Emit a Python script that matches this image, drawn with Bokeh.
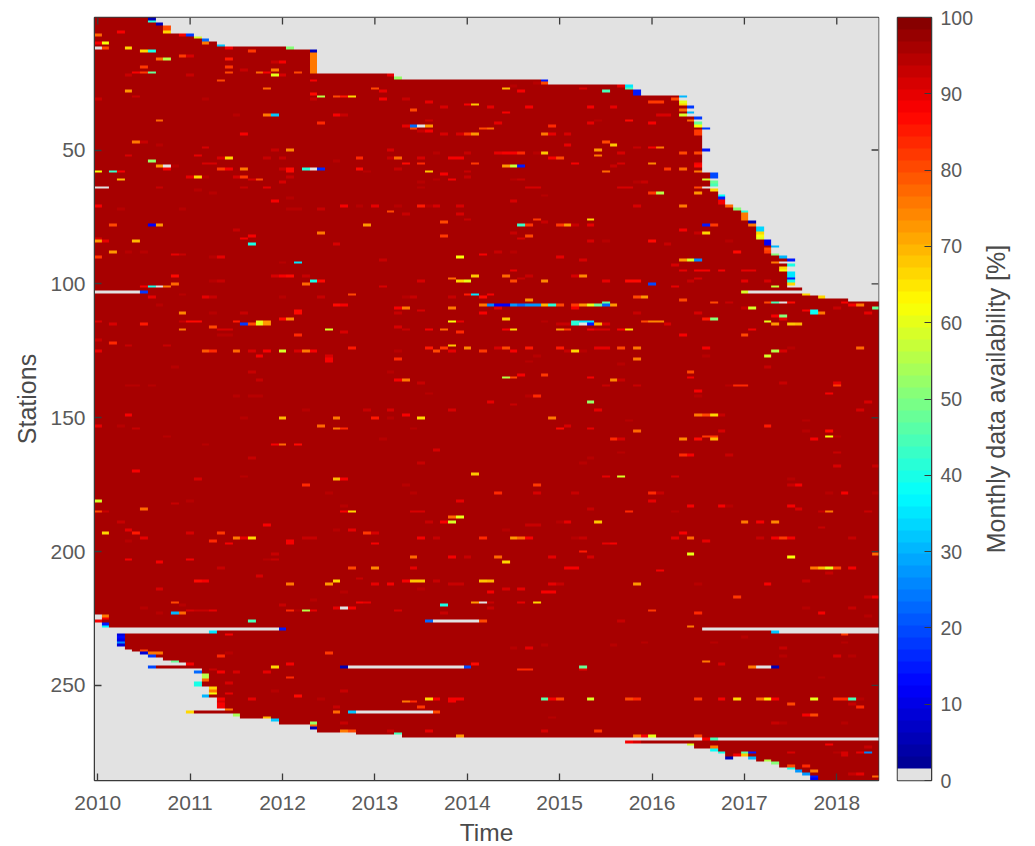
import numpy as np
from bokeh.embed import file_html
from bokeh.resources import INLINE
from bokeh.plotting import figure
from bokeh.layouts import row
from bokeh.models import LinearColorMapper, Range1d, FixedTicker, Title

year_labels = ["2010","2011","2012","2013","2014","2015","2016","2017","2018"]
year_ticks = [0,12,24,36,48,60,72,84,96]
station_ticks = [50,100,150,200,250]
colorbar_ticks = [0,10,20,30,40,50,60,70,80,90,100]
n_stations = 285
n_months = 102
typical_availability = 96
missing = 0

# (from station, to station, last month with data)
row_last_runs = [(1,2,7),(3,3,8),(4,6,9),(7,7,12),(8,8,13),(9,9,14),(10,10,15),(11,11,16),(12,12,25),(13,21,28),
 (22,22,38),(23,23,39),(24,25,58),(26,27,69),(28,29,70),(30,30,76),(31,31,75),(32,33,76),(34,34,77),(35,35,76),
 (36,36,77),(37,37,76),(38,38,78),(39,39,77),(40,41,78),(42,42,79),(43,49,78),(50,50,79),(51,58,78),(59,60,80),
 (61,61,79),(62,63,80),(64,64,79),(65,66,80),(67,70,81),(71,71,82),(72,72,83),(73,76,84),(77,78,85),(79,83,86),
 (84,85,87),(86,86,88),(87,88,87),(89,89,88),(90,90,89),(91,91,90),(92,92,88),(93,93,90),(94,95,89),(96,100,90),
 (101,101,89),(102,103,91),(104,104,92),(105,105,94),(106,106,97),(270,270,80)]
# (from station, to station, first month with data)
row_first_runs = [(227,228,1),(229,229,24),(230,230,15),(231,235,3),(236,236,4),(237,237,5),(238,238,6),(239,239,7),
 (240,240,9),(241,241,10),(242,242,12),(243,243,7),(244,244,14),(245,245,13),(246,248,14),(249,250,13),(251,253,15),
 (254,254,14),(255,258,16),(259,259,17),(260,260,12),(261,261,18),(262,262,19),(263,263,23),(264,264,24),(265,266,28),
 (267,267,29),(268,268,34),(269,269,40),(270,270,79),(271,271,69),(272,272,77),(273,273,78),(274,274,80),(275,275,81),
 (276,277,82),(278,278,86),(279,279,88),(280,280,89),(281,281,90),(282,282,91),(283,283,92),(284,285,93)]
# (station, first month, last month) with no data
gap_runs = [(103,0,5),(229,79,101),(230,89,101),(243,33,47),(243,86,87),(260,34,43),(226,44,49),(277,83,84),(103,85,91),(64,0,1),(224,0,0),(225,0,0)]

# (station, month, availability)
edge_cells = [(1,7,5),(2,7,42),(3,8,5),(4,9,80),(5,9,80),(6,9,66),(7,11,88),(7,12,18),(8,13,58),(9,14,22),(10,14,76),
 (11,16,32),(12,17,90),(12,25,50),(13,28,5),(14,28,75),(15,28,75),(16,28,75),(17,28,75),(18,28,75),(19,28,75),(20,28,75),(21,28,75),
 (22,38,90),(23,39,52),(24,58,15),(25,58,80),(26,69,35),(27,69,45),(28,70,15),(29,70,15),(30,76,30),(31,75,80),(32,76,60),(33,76,66),
 (34,77,18),(35,76,78),(36,77,30),(37,76,58),(38,78,18),(39,77,78),(40,78,48),(41,78,62),(42,79,18),(43,78,82),(44,78,82),(50,79,15),
 (59,80,20),(60,80,20),(61,79,58),(62,80,48),(63,80,45),(64,79,0),(65,80,66),(67,81,38),(68,81,15),(69,81,88),(70,81,88),(71,82,78),
 (72,83,50),(73,84,42),(74,84,75),(75,84,75),(76,84,75),(77,85,5),(78,85,75),(79,86,33),(80,86,33),(81,86,66),(82,86,62),(83,86,58),
 (84,87,12),(85,87,12),(86,88,30),(87,87,80),(88,87,82),(89,88,50),(90,89,30),(91,90,15),(92,88,76),(93,90,40),(94,89,66),(95,89,62),
 (96,90,35),(97,90,35),(98,90,15),(99,90,40),(100,90,66),(101,88,57),(103,84,58),(104,92,66),(105,94,66)]
bottom_edge_cells = [(226,0,88),(224,1,76),(225,1,88),(227,1,15),(228,1,36),(229,24,15),(230,15,35),(231,3,8),(232,3,14),(233,3,10),(234,3,25),(235,3,8),
 (237,6,80),(238,6,8),(238,7,76),(238,8,76),(239,7,18),(241,10,48),(242,11,0),(242,12,88),(243,7,20),(243,32,5),(243,48,20),
 (245,13,22),(246,14,55),(247,14,55),(248,14,78),(249,13,40),(250,13,40),(251,15,66),(252,15,76),(253,15,62),(254,14,30),
 (255,16,88),(256,16,92),(257,16,88),(258,16,88),(259,17,75),(260,12,66),(261,18,54),(262,22,70),(263,23,32),(264,28,52),(265,28,78),(266,28,5),
 (267,32,75),(267,33,80),(268,39,44),(269,47,72),(270,79,88),(270,80,45),(271,69,88),(271,70,92),(272,77,58),(273,80,75),(274,80,38),
 (275,81,40),(275,84,46),(275,85,15),(276,83,88),(276,84,68),(277,82,5),(277,85,30),(278,87,55),(279,88,50),(280,90,80),(281,90,40),(282,91,28),
 (283,92,28),(284,93,15),(285,93,12),(226,43,22),(226,50,80),(243,85,76),(243,88,6),(260,33,32),(260,44,80),(226,20,44)]

top_left_cells = [(7,0,78),(6,3,88),(10,0,88),(10,1,62),(12,0,0),(12,1,80),(12,4,66),(13,6,66),(13,7,40),(16,8,78),(16,9,55),(15,11,82),(15,12,92),
 (12,17,88),(16,17,85),(19,17,82),(21,17,80),(13,20,82),(17,24,88),(17,23,93),(19,6,82),(21,5,88),(21,6,82),(21,7,48),(22,4,93),(22,12,93),(24,16,80),
 (21,21,78),(21,22,88),(20,23,75),(22,23,60),(22,24,92),(21,26,80),(20,19,93),(28,4,72),(27,22,78),(24,28,88),(29,28,87),(31,28,93),(30,29,55),(30,31,80),
 (30,32,85),(30,33,66),(27,36,80),(28,37,90),(31,37,88),(31,40,93),(32,43,90),(33,48,88),(33,49,68),(35,41,80),(34,45,92),(30,5,93),(31,0,93),(31,14,94),
 (37,22,75),(37,23,32),(39,8,78),(37,31,88),(37,32,93),(40,29,84),(37,18,94),(41,41,22),(41,42,0),(41,43,72),(42,41,80),(41,40,90),(39,43,93),(43,43,88),(43,42,93),
 (44,45,91),(44,47,91),(44,48,82),(44,49,72),(42,50,80),(44,19,88),(47,5,76),(47,6,93),(48,8,94),(49,14,91),(50,25,74),(50,23,93),(50,38,91),(52,4,92),(52,13,90),
 (53,16,92),(53,17,66),(53,22,93),(53,24,93),(53,34,84),(53,38,93),(53,39,78),(53,42,92),(53,46,88),(53,47,88),(54,7,52),(54,31,94),(51,44,94),(51,48,93),
 (56,8,72),(56,9,0),(56,10,94),(57,9,88),(55,14,92),(55,15,92),(55,40,86),(55,42,84),(55,49,82),(57,16,82),(57,17,88),(57,19,76),(57,24,93),(57,25,87),(58,25,87),
 (57,27,42),(57,28,0),(57,29,17),(57,34,87),(58,35,94),(57,39,93),(58,0,62),(58,2,43),(58,3,88),(58,43,68),(59,45,88),(58,48,93),(60,48,93),(60,12,90),(60,13,66),(60,14,94),
 (60,18,91),(60,19,82),(61,20,92),(61,21,80),(61,3,70),(60,25,93),(62,24,92),(61,46,88),(61,44,94),(62,42,94),(64,8,93),(64,19,93),(64,22,90),(64,42,94),(65,13,94),(66,15,94)]
mid_top_left_cells = [(69,23,88),(68,25,94),(71,0,88),(72,3,94),(72,11,95),(72,25,94),(72,26,94),(72,29,93),(71,32,88),(71,34,94),(71,36,90),(71,39,94),(71,42,85),(71,44,92),(71,43,94),
 (71,47,92),(73,38,80),(74,40,93),(74,47,92),(76,48,93),(77,45,80),(78,2,80),(78,7,12),(78,8,72),(78,35,72),(80,18,93),(81,29,76),(82,20,88),(83,19,88),(85,20,40),(83,0,92),
 (84,0,72),(84,1,90),(84,5,70),(85,31,92),(82,45,82),(88,2,72),(88,4,94),(88,6,94),(90,0,82),(89,10,90),(89,11,93),(90,15,94),(90,16,90),(91,37,93),(90,47,62),(89,50,88),
 (92,26,35),(92,24,95),(97,10,87),(97,23,92),(97,24,88),(97,25,87),(97,27,93),(98,46,78),(99,47,66),(99,48,60),(97,49,68),(99,15,94),(99,16,93),(100,27,78),(99,28,40),(99,29,87),
 (100,10,78),(101,6,88),(101,7,40),(101,8,0),(101,9,75),(101,37,92),(99,42,92),(103,6,18)]
top_right_cells = [(27,53,70),(28,55,88),(26,54,94),(27,63,91),(28,66,45),(26,68,90),(25,57,94),(34,51,90),(34,56,88),(34,64,88),(34,67,90),(36,53,88),(32,72,82),(32,73,82),
 (37,73,92),(37,74,92),(39,69,87),(40,72,88),(40,64,90),(39,65,94),(40,52,90),(41,59,83),(42,51,78),(44,58,76),(44,59,90),(44,61,92),(47,66,80),(48,67,68),(48,61,90),
 (49,70,93),(49,72,88),(49,73,76),(50,65,72),(52,65,76),(51,68,92),(51,76,80),(51,78,80),(55,78,88),(56,78,86),(58,78,76),(51,52,90),(51,53,88),(51,54,88),(51,55,84),(51,57,94),(51,58,68),
 (53,59,88),(53,60,80),(55,62,88),(56,67,93),(55,68,91),(55,72,74),(57,74,82),(57,76,78),(56,53,72),(56,54,57),(56,55,15),(58,66,78),(61,54,94),(61,55,93),(62,71,93),(62,70,94),
 (64,56,92),(64,57,92),(64,68,92),(64,69,92),(64,78,80),(66,78,72),(66,72,82),(66,73,55),(67,58,95),(69,54,92),(71,70,92),(71,76,76),(76,57,82),(77,58,93),(78,55,43),(78,56,82),
 (78,60,82),(78,61,73),(78,62,93),(76,64,66),(78,64,90),(78,79,15),(78,80,82),(80,76,88),(81,78,93),(81,79,66),(81,54,93),(83,55,92),(82,56,80),(84,64,92),(84,66,94),(84,72,87),
 (85,74,93),(84,82,95),(88,83,86),(88,52,93),(88,54,95),(90,60,90),(91,63,92),(91,76,72),(91,77,58),(91,78,25),(93,75,92),(95,54,90),(95,76,90),(95,78,88),(95,79,88),(95,81,88),
 (95,84,90),(95,85,90),(97,53,78),(97,62,92),(97,63,74),(97,56,93),(98,55,93),(99,54,80),(99,58,74),(99,66,90),(99,69,87),(99,70,87),(100,72,20),(99,77,93),(98,78,92),(99,84,90),(99,87,92),(101,75,90)]
mid_left_cells = [(105,7,90),(104,11,94),(105,14,90),(105,15,93),(105,24,94),(105,29,93),(104,33,80),(108,31,86),(108,32,88),(108,8,95),(111,11,74),(111,15,94),(111,19,93),(111,26,87),(110,26,87),
 (113,24,87),(113,25,74),(114,0,91),(115,2,92),(115,6,85),(114,11,93),(114,12,87),(114,13,87),(114,18,85),(115,19,18),(115,20,80),(115,21,60),(115,22,73),(114,21,60),(114,22,73),(117,11,76),(116,15,80),(117,16,91),(117,17,91),
 (119,16,94),(119,17,94),(119,26,84),(117,30,58),(118,32,92),(121,0,93),(122,2,84),(123,4,93),(123,9,93),(125,0,90),(125,14,79),(125,15,84),(125,18,77),(125,20,91),(125,22,88),(125,24,58),(125,26,91),(125,27,76),(125,28,88),
 (127,21,88),(124,33,85),(127,30,91),(129,30,88),(128,30,88),(128,39,84),(116,39,91),(117,40,93),(117,43,88),(117,45,78),(118,47,84),(109,39,88),(109,40,75),(110,42,92),(109,46,76),(111,39,93),(114,46,62),(114,47,90),
 (123,46,68),(124,45,82),(124,43,85),(125,44,81),(125,46,90),(124,48,74),(125,50,82),(125,39,94),(105,50,86),(108,50,76),(111,50,88),(104,48,85),(104,49,35),(105,46,93),(105,41,93),(105,40,94),(108,51,25),
 (131,10,95),(133,20,93),(136,21,93),(133,38,95),(138,4,94),(138,5,95),(138,7,94),(136,39,88),(136,40,76),(137,42,93),(141,43,95),(142,18,94),(142,20,94),(142,21,94),(147,27,95),(147,35,93),(147,38,92),(147,46,91)]
low_mid_left_cells = [(149,4,88),(150,24,70),(150,31,76),(150,36,85),(150,38,94),(149,40,88),(150,42,66),(150,19,95),(153,0,90),(153,3,94),(154,5,93),(153,29,78),(154,31,76),(154,32,84),(154,41,95),
 (157,9,94),(160,14,94),(160,23,88),(160,24,78),(160,26,87),(158,37,94),(162,44,91),(170,5,88),(165,20,93),(172,19,95),(173,13,91),(173,31,70),(173,32,88),(175,27,84),(175,40,94),(178,30,95),(178,41,94),
 (171,49,68),(167,42,93),(181,0,58),(182,10,93),(181,12,94),(185,0,80),(185,1,93),(184,6,78),(183,32,94),(185,32,88),(185,33,66),(185,41,91),(185,42,92),(181,47,90),(187,46,78),(187,47,60),(189,45,88),(189,46,58),(189,43,93),
 (189,3,93),(190,22,88),(193,1,66),(192,4,90),(193,5,85),(193,12,92),(193,16,82),(192,33,90),(193,35,82),(193,36,92),(192,31,95),(195,6,90),(195,18,76),(195,19,90),(195,20,66),(195,27,93),(195,28,93),(195,42,88),(195,50,84)]
mid_right_cells = [(107,66,48),(108,67,72),(108,65,48),(108,64,60),(108,63,72),(108,62,82),(108,60,80),(108,59,42),(108,58,70),(108,57,28),(108,56,28),(108,55,22),(108,54,28),(108,53,12),(108,52,12),(108,51,25),(108,66,22),
 (109,62,88),(109,52,90),(106,56,72),(104,51,88),(105,70,80),(105,71,72),(106,76,80),(107,80,80),(107,82,93),(107,87,80),(107,88,45),(107,89,0),(107,90,87),(109,85,58),(109,84,93),(107,97,88),(108,98,88),(108,99,76),(109,96,93),(109,101,48),
 (110,92,88),(110,93,38),(111,93,38),(111,94,75),(111,100,90),(111,78,91),(111,70,93),(113,79,85),(113,80,50),(113,53,68),(112,89,50),(112,88,88),(113,89,90),(114,87,60),(115,88,72),(115,90,68),(115,91,70),(114,71,80),(114,72,74),(114,73,74),(115,74,92),
 (115,62,42),(115,63,0),(115,64,15),(114,64,35),(114,63,35),(114,62,42),(115,65,70),(115,66,92),(115,60,93),(115,61,93),(114,58,95),(117,53,88),(117,54,66),(117,60,72),(117,61,82),(117,64,88),(117,65,92),(117,66,92),(117,68,88),(117,69,66),
 (119,76,88),(119,84,80),(117,85,88),(124,52,92),(124,53,80),(125,54,88),(124,56,85),(124,60,85),(125,62,66),(125,63,94),(124,65,90),(124,66,90),(124,68,80),(124,70,76),(125,61,93),(124,79,88),(125,88,55),(125,89,92),(124,90,94),(124,99,78),(127,87,58),(127,79,94),(128,70,76),
 (127,57,94),(129,56,95),(131,87,93),(130,68,95)]
low_mid_right_cells = [(133,77,80),(135,77,88),(135,53,55),(135,54,80),(134,55,88),(134,58,82),(135,64,88),(136,67,74),(136,68,93),(138,66,93),(138,70,93),(138,83,84),(138,84,84),(138,82,94),(137,89,93),(137,96,90),(138,96,82),(140,78,88),(142,78,94),(141,95,88),
 (142,57,84),(142,56,94),(144,64,52),(144,51,90),(145,54,93),(147,65,90),(147,99,91),(144,100,92),(150,59,76),(149,78,75),(149,79,80),(149,80,66),(149,81,93),(151,69,95),(151,92,95),(153,61,92),(154,60,87),(154,64,90),(155,70,78),(153,87,85),(155,81,91),(155,92,94),(155,95,86),(157,95,62),(157,96,94),
 (158,67,84),(158,68,92),(158,76,74),(158,78,87),(157,79,82),(157,80,82),(158,80,70),(158,93,88),(163,68,94),(164,76,84),(164,77,88),(164,82,93),(163,96,93),(165,64,94),(167,63,95),(168,96,92),(168,101,93),(172,66,90),(172,68,58),(172,75,92),(173,90,95),
 (175,57,82),(175,90,93),(175,91,88),(178,52,84),(178,57,92),(178,62,93),(178,72,84),(178,73,93),(178,95,94),(178,97,88),(178,101,94),(181,72,90),(183,77,88),(183,81,88),(183,82,94),(183,90,88),(184,91,92),(184,64,93),(185,69,84),(185,75,94),(185,95,76),(185,94,93),(185,100,93),
 (189,61,90),(189,60,94),(189,65,68),(189,84,76),(189,86,88),(189,88,74),(190,56,93),(190,57,93),(192,53,94),(191,94,93),(193,76,88),(195,54,72),(195,55,78),(195,56,88),(195,75,90),(195,77,78),(195,86,93),(195,88,88),(195,89,82),(195,90,88),(195,98,93),(195,62,94),(195,63,93)]
bottom_left_cells = [(203,4,88),(204,8,88),(203,12,88),(206,16,93),(196,25,88),(197,25,88),(197,17,88),(201,23,93),(203,23,93),(203,22,94),(202,41,78),(202,46,88),(202,48,93),(196,15,84),(196,4,94),(197,36,88),(195,44,93),
 (209,21,92),(206,41,90),(206,33,80),(206,36,74),(212,25,76),(212,30,72),(211,31,66),(211,13,87),(211,14,88),(214,8,92),(212,36,90),(212,38,88),(211,40,88),(211,41,68),(211,42,68),(211,44,93),(212,46,93),(212,47,93),(211,50,68),(210,34,93),(214,42,95),(215,32,94),
 (219,10,80),(220,11,94),(219,34,88),(219,35,90),(219,49,72),(219,50,0),(220,24,93),(218,28,95),(221,6,95),(220,45,40),(223,45,93),(223,8,95),(221,31,90),(221,32,0),(221,33,88),(223,10,30),(223,11,78),(222,12,92),(222,13,93),(222,14,93),(222,15,90),
 (222,25,84),(222,27,55),(222,28,90),(222,26,94),(222,39,92),(231,17,88),(238,30,82),(239,16,84),(238,17,95),(243,23,66),(242,25,88),(247,25,84),(245,22,90),(245,16,88),(245,18,92),(244,15,93),(242,49,87),(249,17,92),(252,23,94),(253,17,90),(255,20,90),(254,26,87),(252,32,93),
 (255,44,88),(255,43,66),(256,40,76),(256,41,84),(255,46,88),(255,47,88),(256,46,88),(258,42,82),(258,31,93),(255,29,95),(264,32,93),(260,31,78),(267,43,90),(267,38,93)]
bottom_right_cells = [(196,79,90),(197,66,90),(197,67,88),(200,63,85),(202,64,92),(202,52,78),(202,59,90),(201,77,60),(202,90,62),(201,101,78),(204,53,66),(206,61,88),(206,62,88),(207,73,88),(206,93,76),(206,94,70),(206,95,60),(206,96,80),(206,98,88),(208,95,93),
 (211,51,70),(212,59,90),(212,60,93),(212,70,72),(212,87,88),(211,92,93),(212,78,95),(215,51,88),(214,53,92),(214,55,90),(215,58,88),(215,59,88),(217,83,82),(217,100,93),(217,101,88),(219,55,90),(219,57,66),(219,51,93),(221,51,93),(222,72,82),(223,78,84),(223,94,88),(221,92,94),(221,98,93),(224,100,95),
 (226,68,93),(228,77,75),(231,97,82),(234,97,94),(234,80,94),(232,84,95),(230,88,32),(236,54,94),(236,56,90),(235,58,94),(235,67,94),(234,71,95),(236,89,93),(239,89,94),(239,96,92),(239,98,94),(241,79,76),(242,81,92),(243,63,48),(244,63,90),(244,55,84),(244,56,84),(247,94,94),
 (255,58,46),(255,59,88),(255,60,80),(255,64,58),(255,69,80),(255,70,84),(255,78,82),(255,81,88),(255,83,66),(255,86,78),(255,87,65),(255,88,88),(255,93,60),(255,96,84),(255,97,84),(255,98,45),(255,99,94),(257,90,80),(257,98,93),(258,99,84),
 (262,59,94),(261,92,88),(261,93,80),(264,88,93),(264,89,94),(264,97,95),(267,58,92),(267,65,82),(269,70,75),(269,71,88),(269,72,60),(269,78,80),(272,95,88),(275,90,92),(275,96,94),(275,97,92),(276,97,91),(275,99,90),(275,100,25),(273,100,93),(280,92,84),(282,93,76),(283,98,93),(283,99,90),(284,101,78)]

all_cells = (edge_cells + bottom_edge_cells + top_left_cells + mid_top_left_cells + top_right_cells + mid_left_cells +
             low_mid_left_cells + mid_right_cells + low_mid_right_cells + bottom_left_cells + bottom_right_cells)

grid = np.full((n_stations, n_months), float(typical_availability))
for a, b, last in row_last_runs:
    grid[a-1:b, last+1:] = missing
for a, b, first in row_first_runs:
    grid[a-1:b, :first] = missing
for s, a, b in gap_runs:
    grid[s-1, a:b+1] = missing
for s, m, v in all_cells:
    if s <= n_stations and m < n_months:
        grid[s-1, m] = v

def jet(t):
    c = lambda x: int(round(255*min(1.0, max(0.0, x))))
    return "#%02x%02x%02x" % (c(1.5-abs(4*t-3)), c(1.5-abs(4*t-2)), c(1.5-abs(4*t-1)))

palette = ["#e2e2e2"] + [jet((i+0.5)/64) for i in range(1, 64)]
mapper = LinearColorMapper(palette=palette, low=0, high=100)

TICK = "#3a3a3a"
TEXT = "#5a5a5a"
LABEL = "#4a4a4a"
FONT = "Liberation Sans"
x_lo, x_hi = -0.42, 101.42
y_top, y_bottom = 0.5, 285.5
tick_dx, tick_dy = 0.9, 2.6

p = figure(width=894, height=845, output_backend="svg", toolbar_location=None,
           x_range=Range1d(x_lo, x_hi), y_range=Range1d(y_bottom, y_top),
           min_border_left=94, min_border_right=16, min_border_top=17, min_border_bottom=65,
           x_axis_label="Time", y_axis_label="Stations")
p.frame_width = 784
p.frame_height = 763
p.grid.visible = False
p.image(image=[grid], x=-0.5, y=y_top, dw=n_months, dh=n_stations, color_mapper=mapper)
p.outline_line_color = TICK
p.outline_line_width = 1.5

p.xaxis.ticker = FixedTicker(ticks=year_ticks)
p.xaxis.major_label_overrides = {t: l for t, l in zip(year_ticks, year_labels)}
p.yaxis.ticker = FixedTicker(ticks=station_ticks)
for ax in (p.xaxis[0], p.yaxis[0]):
    ax.major_tick_in = 7
    ax.major_tick_out = 0
    ax.minor_tick_in = 0
    ax.minor_tick_out = 0
    ax.axis_line_color = TICK
    ax.major_tick_line_color = TICK
    ax.major_tick_line_width = 1.3
    ax.major_label_text_font = FONT
    ax.major_label_text_font_size = "21px"
    ax.major_label_text_color = TEXT
    ax.axis_label_text_font = FONT
    ax.axis_label_text_font_style = "normal"
    ax.axis_label_text_color = LABEL
p.xaxis.axis_label_text_font_size = "24.5px"
p.yaxis.axis_label_text_font_size = "25px"
p.xaxis.major_label_standoff = 15
p.xaxis.axis_label_standoff = 6
p.yaxis.major_label_standoff = 9
p.yaxis.axis_label_standoff = 6

# mirrored ticks along the top and right edges of the frame
p.segment(x0=year_ticks, x1=year_ticks, y0=[y_top]*len(year_ticks), y1=[y_top+tick_dy]*len(year_ticks), line_color=TICK, line_width=1.3)
p.segment(x0=[x_hi]*len(station_ticks), x1=[x_hi-tick_dx]*len(station_ticks), y0=station_ticks, y1=station_ticks, line_color=TICK, line_width=1.3)

cb = figure(width=83, height=845, output_backend="svg", toolbar_location=None,
            x_range=Range1d(0, 1), y_range=Range1d(0, 100),
            min_border_left=3, min_border_right=46, min_border_top=17, min_border_bottom=65,
            y_axis_location="right")
cb.frame_width = 34
cb.frame_height = 763
cb.grid.visible = False
cb.xaxis.visible = False
cb_levels = (np.arange(64) + 0.5) / 64 * 100
cb.image(image=[cb_levels.reshape(64, 1)], x=0, y=0, dw=1, dh=100, color_mapper=mapper)
cb.outline_line_color = TICK
cb.outline_line_width = 1.5
ax = cb.yaxis[0]
ax.ticker = FixedTicker(ticks=colorbar_ticks)
ax.major_tick_in = 7
ax.major_tick_out = 0
ax.minor_tick_in = 0
ax.minor_tick_out = 0
ax.axis_line_color = TICK
ax.major_tick_line_color = TICK
ax.major_label_text_font = FONT
ax.major_label_text_font_size = "19.5px"
ax.major_label_text_color = TEXT
ax.major_label_standoff = 9

# the colour bar's label, reading upward, in a narrow figure beside the bar
lab = figure(width=50, height=845, output_backend="svg", toolbar_location=None,
             x_range=Range1d(0, 1), y_range=Range1d(0, 1),
             min_border_left=0, min_border_right=0, min_border_top=17, min_border_bottom=65)
lab.frame_width = 10
lab.frame_height = 763
lab.grid.visible = False
lab.xaxis.visible = False
lab.yaxis.visible = False
lab.outline_line_color = None
lab.add_layout(Title(text="Monthly data availability [%]", align="center", text_font=FONT, text_font_size="25px",
                     text_font_style="normal", text_color=LABEL, standoff=4), "left")

layout = row(p, cb, lab, spacing=0)
open("out.html", "w").write(file_html(layout, INLINE))
